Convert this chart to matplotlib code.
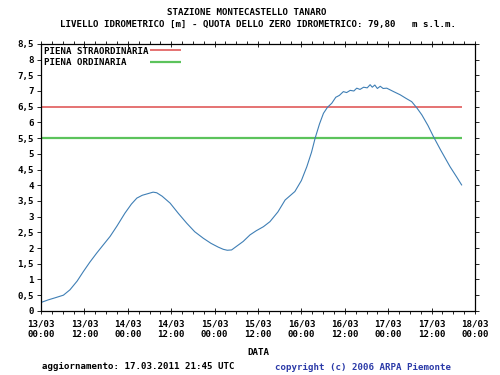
import matplotlib.pyplot as plt
from matplotlib.ticker import MultipleLocator, FuncFormatter

# hours since 13/03 00:00 and water level [m]
hours = [0.3, 2, 4, 6.2, 8, 10, 11.7, 13.5, 15.4, 17, 19.1, 21, 23.2, 25, 26.5,
         28, 29.5, 31, 32, 33.5, 35.7, 38, 40.3, 42.5, 44.9, 47, 49, 50.4, 51.5,
         52.7, 54, 55.9, 57.8, 59.5, 61.5, 63.3, 65.5, 67.5, 70.2, 72, 73.5,
         74.8, 75.8, 77, 78.1, 79.2, 80.4, 81.5, 82.5, 83.6, 84.5, 85.5, 86.5,
         87.3, 88.2, 89.2, 90.2, 91, 91.6, 92.3, 93, 93.8, 94.6, 95.6, 97.5,
         99.3, 101, 102.5, 104, 105.3, 107, 108.5, 110.5, 113.1, 115, 116.3]
livello = [0.28, 0.35, 0.42, 0.50, 0.67, 0.95, 1.25, 1.55, 1.84, 2.07, 2.37,
           2.70, 3.11, 3.40, 3.59, 3.68, 3.73, 3.78, 3.76, 3.65, 3.43, 3.10,
           2.79, 2.52, 2.31, 2.15, 2.03, 1.96, 1.93, 1.94, 2.05, 2.21, 2.42,
           2.55, 2.68, 2.84, 3.15, 3.53, 3.80, 4.15, 4.59, 5.05, 5.50, 5.95,
           6.29, 6.48, 6.61, 6.80, 6.86, 6.98, 6.95, 7.02, 7.00, 7.09, 7.05,
           7.12, 7.10, 7.20, 7.12, 7.19, 7.08, 7.15, 7.08, 7.09, 6.98, 6.88,
           6.76, 6.66, 6.45, 6.24, 5.90, 5.55, 5.12, 4.59, 4.25, 4.01]

piena_straord = 6.5
piena_ord = 5.5

xtick_labels = ['13/03\n00:00', '13/03\n12:00', '14/03\n00:00', '14/03\n12:00',
                '15/03\n00:00', '15/03\n12:00', '16/03\n00:00', '16/03\n12:00',
                '17/03\n00:00', '17/03\n12:00', '18/03\n00:00']

font = {'family': 'DejaVu Sans Mono', 'weight': 'bold', 'size': 6.6}
plt.rcParams['font.family'] = 'DejaVu Sans Mono'
plt.rcParams['font.weight'] = 'bold'
plt.rcParams['font.size'] = 6.6

fig = plt.figure(figsize=(5, 3.75), dpi=100)
ax = fig.add_axes([0.082, 0.171, 0.868, 0.712])

ax.hlines(piena_straord, 0, hours[-1], color='#e05a5a', lw=1.2,
          label='PIENA STRAORDINARIA')
ax.hlines(piena_ord, 0, hours[-1], color='#5cc35c', lw=1.6,
          label='PIENA ORDINARIA    ')
ax.plot(hours, livello, color='#3f7fb5', lw=0.8)

ax.set_xlim(0, 120)
ax.set_ylim(0, 8.5)
ax.set_xticks(range(0, 121, 12))
ax.set_xticklabels(xtick_labels)
ax.xaxis.set_minor_locator(MultipleLocator(3))
ax.yaxis.set_major_locator(MultipleLocator(0.5))
ax.yaxis.set_major_formatter(FuncFormatter(lambda v, p: ('%g' % v).replace('.', ',')))

for s in ax.spines.values():
    s.set_linewidth(0.9)
ax.tick_params(axis='both', which='both', direction='out', length=3, width=0.6,
               top=True, right=True, labelsize=6.6, pad=2)
ax.tick_params(axis='x', which='minor', length=2)
ax.tick_params(axis='y', which='minor', left=False, right=False)
ax.tick_params(axis='x', which='major', direction='inout', length=5, pad=4)

ax.set_xlabel('DATA', fontdict=font, labelpad=6)

leg = ax.legend(loc='upper left', frameon=False, markerfirst=False,
                handlelength=3.4, handletextpad=0.2, labelspacing=0.25,
                borderaxespad=0.1, borderpad=0.2,
                prop={'family': 'DejaVu Sans Mono', 'weight': 'bold', 'size': 6.6})

fig.text(0.494, 0.96, 'STAZIONE MONTECASTELLO TANARO', ha='center', **font)
fig.text(0.516, 0.928,
         'LIVELLO IDROMETRICO [m] - QUOTA DELLO ZERO IDROMETRICO: 79,80   m s.l.m.',
         ha='center', **font)
fig.text(0.084, 0.016, 'aggiornamento: 17.03.2011 21:45 UTC', **font)
fig.text(0.55, 0.014, 'copyright (c) 2006 ARPA Piemonte', color='#2b3aa8', **font)

fig.savefig('out.png', dpi=100)
